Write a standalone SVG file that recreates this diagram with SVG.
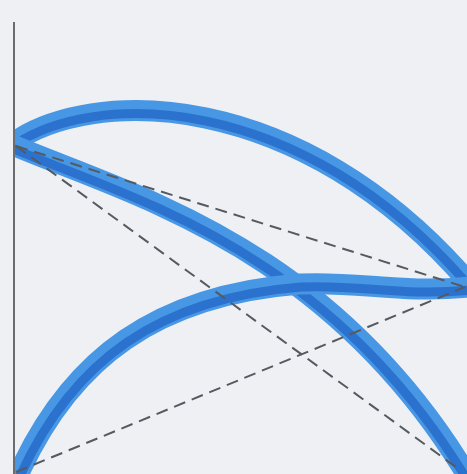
<svg xmlns="http://www.w3.org/2000/svg" width="467" height="474" viewBox="0 0 467 474">
  <defs>
    <clipPath id="plot"><rect x="14" y="0" width="453" height="474"/></clipPath>
  </defs>
  <style>
    .band { fill: none; stroke: #4897e4; stroke-width: 21; stroke-linecap: butt; }
    .core { fill: none; stroke: #2b72cf; stroke-width: 9; stroke-linecap: butt; }
    .dash { fill: none; stroke: #555a60; stroke-width: 2; stroke-dasharray: 12 7; }
    .axis { fill: none; stroke: #6a6c70; stroke-width: 2; }
  </style>
  <rect x="0" y="0" width="467" height="474" fill="#eef0f4"/>
  <g clip-path="url(#plot)">
    <g id="curve-upper">
      <path class="band" d="M10,145 C90,86 300,86 470,284"/>
      <path class="core" transform="translate(0,3)" d="M10,145 C90,86 300,86 470,284"/>
    </g>
    <g id="curve-down">
      <path class="band" d="M10,144 C130,195 330,245 470,480"/>
      <path class="core" transform="translate(-1,3)" d="M10,144 C130,195 330,245 470,480"/>
    </g>
    <g id="curve-lower">
      <path class="band" d="M15,482 C70,355 160,295 300,284 C360,281 400,294 470,287"/>
      <path class="core" transform="translate(1,3)" d="M15,482 C70,355 160,295 300,284 C360,281 400,294 470,287"/>
    </g>
  </g>
  <g id="axis">
    <line class="axis" x1="14" y1="22" x2="14" y2="474"/>
  </g>
  <g id="connectors">
    <line class="dash" x1="16" y1="146" x2="465" y2="287"/>
    <line class="dash" x1="16" y1="146" x2="460" y2="470"/>
    <line class="dash" x1="16" y1="472" x2="465" y2="287"/>
  </g>
</svg>
